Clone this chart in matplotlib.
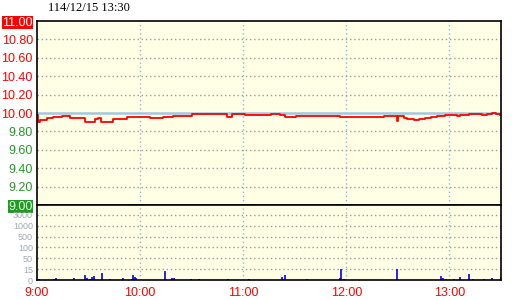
import numpy as np
import matplotlib
matplotlib.use("Agg")
import matplotlib.pyplot as plt

# price trace (minutes after 9:00, price), step style
price_min = [0, 0.6, 1.7, 5.6, 9.3, 14.4, 19.2, 23.9, 28, 30.9, 33.8, 35.4, 37.1,
             42.5, 44.3, 48.3, 52.3, 60, 65.8, 73.4, 79.2, 90.1, 106.6, 110.5,
             113.4, 121.2, 135.7, 136.3, 141.6, 144.5, 150.7, 176.5, 202, 209.5,
             210, 213.4, 215.3, 219.2, 222.1, 225.6, 229.3, 232.8, 237.7, 244.5,
             246, 251.2, 259, 262, 264.8, 266.8, 269.3]
price = [9.98, 9.90, 9.92, 9.95, 9.96, 9.97, 9.95, 9.945, 9.90, 9.90, 9.93, 9.945, 9.90,
         9.90, 9.93, 9.94, 9.96, 9.96, 9.945, 9.96, 9.967, 9.99, 9.99, 9.96,
         9.99, 9.98, 9.98, 9.99, 9.98, 9.96, 9.97, 9.96, 9.97, 9.91,
         9.97, 9.95, 9.935, 9.92, 9.935, 9.945, 9.955, 9.967, 9.978, 9.967,
         9.978, 9.99, 9.978, 9.99, 10.00, 9.99, 9.978]

# volume ticks (minutes after 9:00, lots)
vol_min = [1.2, 10.1, 11.1, 21.7, 28, 29.1, 30.9, 32, 33.2, 38, 42.7, 50.3, 55.2,
           56.1, 57.1, 57.8, 74.2, 78.8, 80, 89.9, 94.2, 110.9, 123.1, 142.3,
           144.6, 156.9, 176.1, 176.9, 178.4, 209.3, 234.9, 236.2, 237.9, 242.5,
           246, 251.2, 253.6, 260, 264.9, 269.9]
vol = [1, 1, 3, 3, 7, 3, 1, 4, 5, 10, 1, 3, 1,
       7, 4, 3, 12, 3, 3, 1, 1, 1, 1, 4,
       7, 1, 3, 15, 1, 15, 5, 3, 1, 1,
       4, 8, 1, 1, 3, 4]

price_ticks = [9.00, 9.20, 9.40, 9.60, 9.80, 10.00, 10.20, 10.40, 10.60, 10.80, 11.00]
vol_levels = [0, 15, 50, 100, 500, 1000, 3000]
time_labels = ["9:00", "10:00", "11:00", "12:00", "13:00"]
title = "114/12/15 13:30"

bg = "#ffffe6"
plt.rcParams['font.family'] = ['Liberation Sans', 'DejaVu Sans']

fig = plt.figure(figsize=(5.2, 3.0), dpi=100)
W, H = 520.0, 300.0
ax = fig.add_axes([37 / W, 95 / H, 464 / W, 184 / H], facecolor=bg)
axv = fig.add_axes([37 / W, 20 / H, 464 / W, 75 / H], facecolor=bg)

tmax = 270
hours = [0, 60, 120, 180, 240]

# price panel
ax.set_xlim(0, tmax)
ax.set_ylim(9.0, 11.0)
for p in price_ticks[1:-1]:
    if abs(p - 10.0) > 1e-6:
        ax.axhline(p, color="#999999", lw=1, ls=(0, (1, 2)))
for h in hours[1:]:
    ax.axvline(h, color="#88b8dd", lw=1, ls=(0, (1, 2)))
ax.axhline(10.0, color="#a0c8e4", lw=1.8)
ax.plot(price_min, price, color="red", lw=1.3, drawstyle="steps-post")
ax.set_xticks([])
ax.set_yticks(price_ticks)
ax.set_yticklabels(["%.2f" % p for p in price_ticks])
ax.tick_params(axis="y", length=0, pad=3, labelsize=9)
for lab, p in zip(ax.get_yticklabels(), price_ticks):
    if p >= 10.0:
        lab.set_color("red")
    else:
        lab.set_color("#229922")
    if p == 11.0:
        lab.set_color("white")
        lab.set_bbox(dict(facecolor="red", edgecolor="none", pad=0.4))
    if p == 9.0:
        lab.set_color("#ddffdd")
        lab.set_bbox(dict(facecolor="#229922", edgecolor="none", pad=0.4))
for s in ax.spines.values():
    s.set_color("black")
    s.set_linewidth(1.2)

# volume panel, piecewise scale
def vscale(v):
    return np.interp(v, vol_levels, np.arange(len(vol_levels)))

axv.set_xlim(0, tmax)
axv.set_ylim(0, 6.9)
for i in range(1, len(vol_levels)):
    axv.axhline(i, color="#999999", lw=1, ls=(0, (1, 2)))
for h in hours[1:]:
    axv.axvline(h, color="#a0b8bb", lw=1, ls=(0, (1, 2)))
axv.vlines(vol_min, 0, vscale(np.array(vol)), color="#0000ee", lw=1.2)
axv.set_yticks(range(len(vol_levels)))
axv.set_yticklabels([str(v) for v in vol_levels])
axv.tick_params(axis="y", length=0, pad=3, labelsize=6.5, labelcolor="#a0a8b0")
axv.set_xticks(hours)
axv.set_xticklabels(time_labels)
axv.tick_params(axis="x", length=0, pad=5, labelsize=9, labelcolor="red")
for s in axv.spines.values():
    s.set_color("black")
    s.set_linewidth(1.2)

fig.text(48 / W, 1 - 8 / H, title, fontsize=9, family="Liberation Serif",
         va="center", ha="left")

fig.savefig("out.png", dpi=100, facecolor="white")
